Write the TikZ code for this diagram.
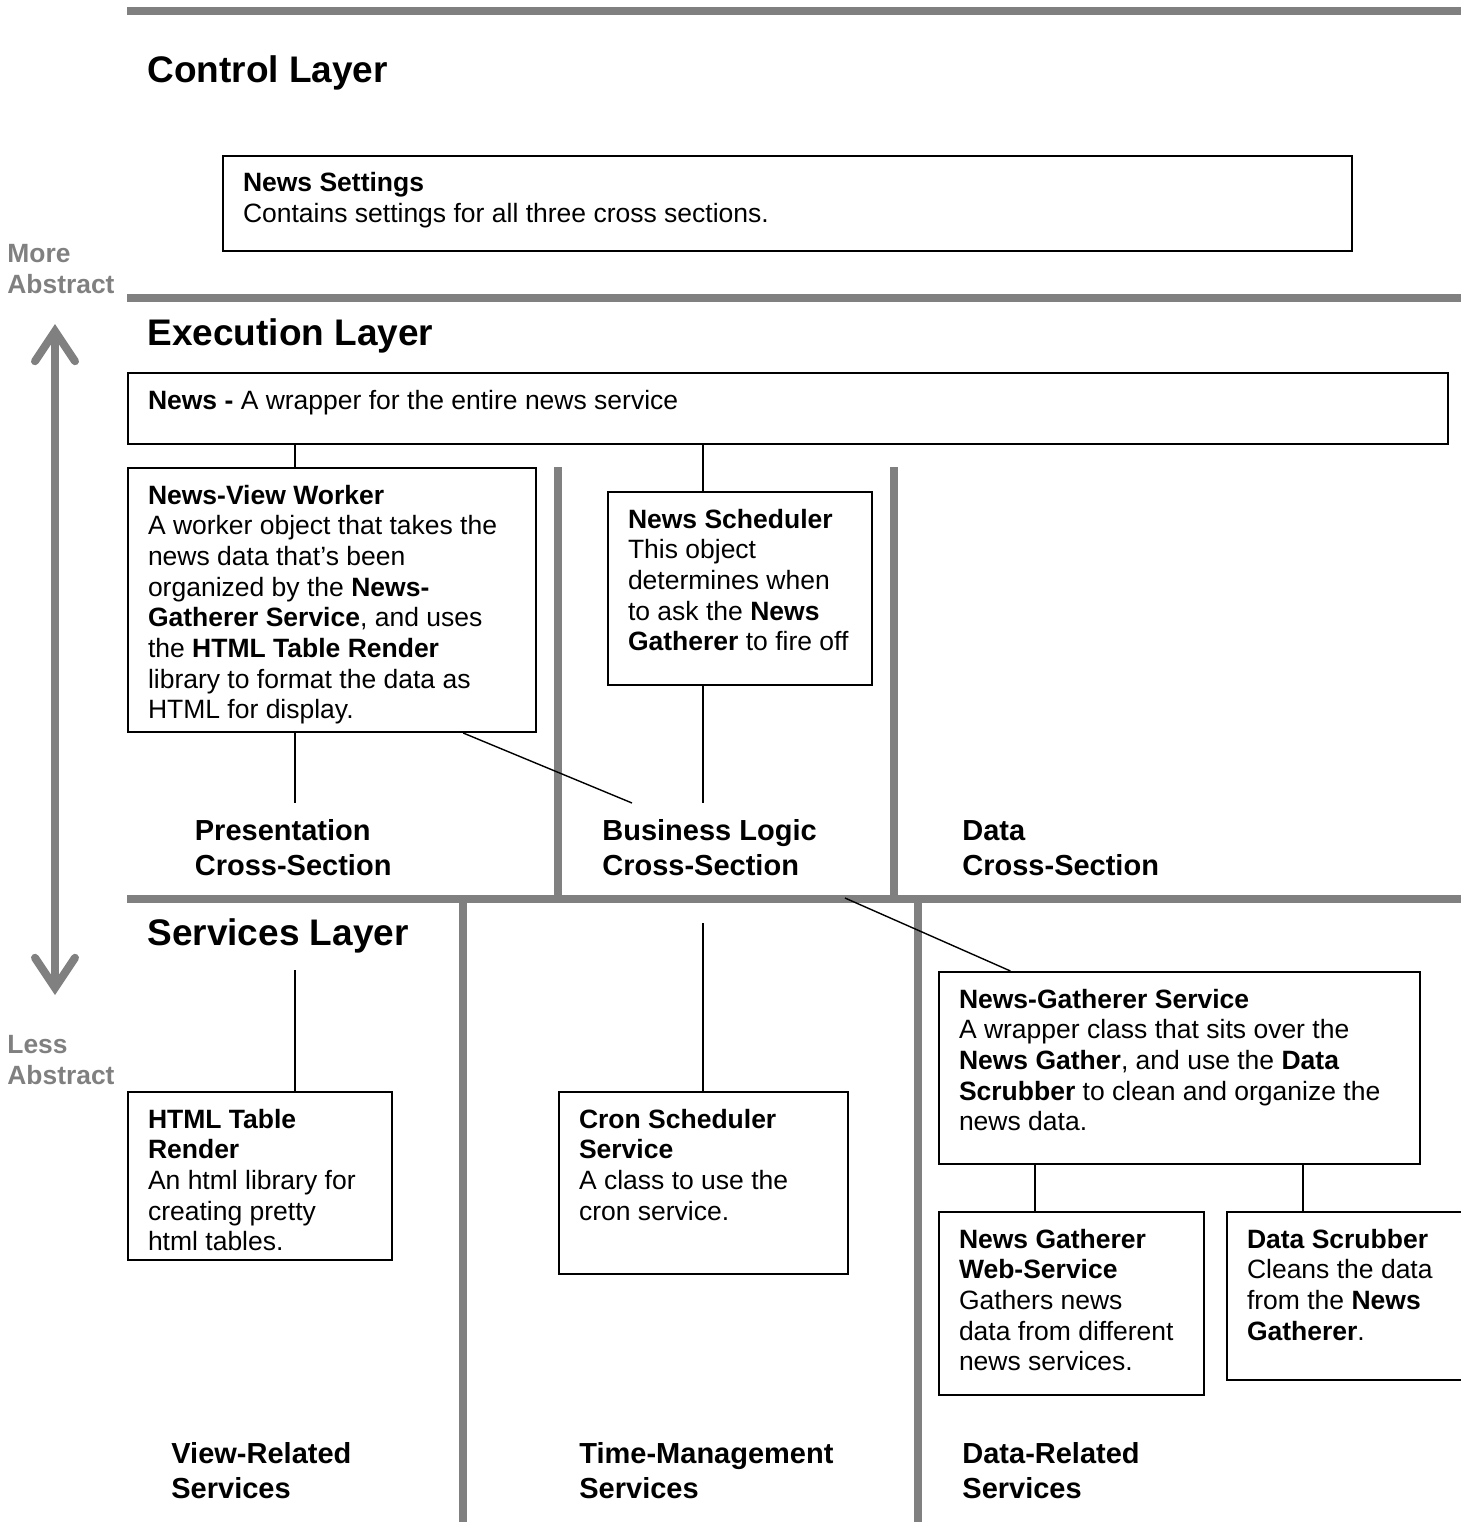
\documentclass[tikz,border=0pt]{standalone}
\usepackage{fontspec}
\setmainfont{Liberation Sans}
\usepackage{tikz}
\usetikzlibrary{arrows.meta, calc}
\usepackage{xcolor}
\definecolor{bargray}{HTML}{808080}
\newlength{\px}
\setlength{\px}{0.5pt}
\newcommand{\bodyfont}{\fontsize{13.25}{15.35}\selectfont}
\newcommand{\boxtext}[3]{\parbox[t][#2\px][t]{#1\px}{\raggedright\strut#3}}

\tikzset{
  layerbar/.style={draw=bargray, line width=4pt},
  card/.style={rectangle, draw=black, line width=1pt, anchor=north west,
               inner xsep=10pt, inner ysep=7.25pt, font=\bodyfont},
  link/.style={draw=black, line width=0.7pt},
  layertitle/.style={anchor=base west, inner sep=0pt,
                     font=\fontsize{18.5}{22}\selectfont\bfseries},
  crosslabel/.style={anchor=north west, inner sep=0pt, align=left,
                     font=\fontsize{14.5}{17.5}\selectfont\bfseries},
  sidelabel/.style={anchor=north west, inner sep=0pt, align=left, text=bargray,
                    font=\fontsize{13.2}{15.5}\selectfont\bfseries},
  abstraction/.style={draw=bargray, line width=4pt,
                      {Straight Barb[length=15pt, width=20pt, line cap=round, line join=miter]}-{Straight Barb[length=15pt, width=20pt, line cap=round, line join=miter]}}
}

\begin{document}
\begin{tikzpicture}[x=0.5pt, y=-0.5pt]
\clip (0,0) rectangle (1461,1522);

% layer and section bars
\draw[layerbar] (127,11) -- (1461,11);
\draw[layerbar] (127,298) -- (1461,298);
\draw[layerbar] (127,899) -- (1461,899);
\draw[layerbar] (558,467) -- (558,899);
\draw[layerbar] (894,467) -- (894,899);
\draw[layerbar] (463,899) -- (463,1522);
\draw[layerbar] (918,899) -- (918,1522);

\draw[abstraction] (55,995) -- (55,324);
\node[sidelabel] (more) at (7,240) {\strut More\\Abstract};
\node[sidelabel] (less) at (7,1031.5) {\strut Less\\Abstract};

\node[layertitle] (control) at (147,82) {Control Layer};
\node[layertitle] (execution) at (147,345) {Execution Layer};
\node[layertitle] (services) at (147,945) {Services Layer};

\node[card] (settings) at (222,155) {\boxtext{1089}{66}{\textbf{News Settings}\\
  Contains settings for all three cross sections.}};

\node[card] (news) at (127,372) {\boxtext{1280}{42}{\textbf{News -} A wrapper for the entire news service}};

\node[card] (worker) at (127,467) {\boxtext{368}{235}{\textbf{News-View Worker}\\
  A worker object that takes the\\
  news data that’s been\\
  organized by the \textbf{News-}\\
  \textbf{Gatherer Service}, and uses\\
  the \textbf{HTML Table Render}\\
  library to format the data as\\
  HTML for display.}};

\node[card] (scheduler) at (607,491) {\boxtext{224}{164}{\textbf{News Scheduler}\\
  This object\\
  determines when\\
  to ask the \textbf{News}\\
  \textbf{Gatherer} to fire off}};

\node[crosslabel] (presentation) at (194.5,815.5) {\strut Presentation\\Cross-Section};
\node[crosslabel] (business) at (602,815.5) {\strut Business Logic\\Cross-Section};
\node[crosslabel] (data) at (962,815.5) {\strut Data\\Cross-Section};

\node[card] (html) at (127,1091) {\boxtext{224}{139}{\textbf{HTML Table}\\
  \textbf{Render}\\
  An html library for\\
  creating pretty\\
  html tables.}};

\node[card] (cron) at (558,1091) {\boxtext{249}{153}{\textbf{Cron Scheduler}\\
  \textbf{Service}\\
  A class to use the\\
  cron service.}};

\node[card] (gatherer) at (938,971) {\boxtext{441}{163}{\textbf{News-Gatherer Service}\\
  A wrapper class that sits over the\\
  \textbf{News Gather}, and use the \textbf{Data}\\
  \textbf{Scrubber} to clean and organize the\\
  news data.}};

\node[card] (websvc) at (938,1211) {\boxtext{225}{154}{\textbf{News Gatherer}\\
  \textbf{Web-Service}\\
  Gathers news\\
  data from different\\
  news services.}};

\node[card] (scrubber) at (1226,1211) {\boxtext{224}{139}{\textbf{Data Scrubber}\\
  Cleans the data\\
  from the \textbf{News}\\
  \textbf{Gatherer}.}};

\node[crosslabel] (viewsvc) at (171,1438.5) {\strut View-Related\\Services};
\node[crosslabel] (timesvc) at (579,1438.5) {\strut Time-Management\\Services};
\node[crosslabel] (datasvc) at (962,1438.5) {\strut Data-Related\\Services};

% connectors
\coordinate (presEnd) at (295,803);
\coordinate (bizEnd) at (632,803);
\coordinate (schedEnd) at (703,803);
\coordinate (dataStart) at (845,898);
\coordinate (viewStart) at (295,970);
\coordinate (timeStart) at (703,923);

\draw[link] (news.south -| presEnd) -- (worker.north -| presEnd);
\draw[link] (worker.south -| presEnd) -- (presEnd);
\draw[link] ($(worker.south west)!0.82!(worker.south east)$) -- (bizEnd);
\draw[link] (news.south -| schedEnd) -- (scheduler.north -| schedEnd);
\draw[link] (scheduler.south -| schedEnd) -- (schedEnd);
\draw[link] (dataStart) -- ($(gatherer.north west)!0.15!(gatherer.north east)$);
\draw[link] (viewStart) -- (html.north -| viewStart);
\draw[link] (timeStart) -- (cron.north -| timeStart);
\draw[link] (gatherer.south -| 1035,0) -- (websvc.north -| 1035,0);
\draw[link] (gatherer.south -| 1303,0) -- (scrubber.north -| 1303,0);
\end{tikzpicture}
\end{document}
